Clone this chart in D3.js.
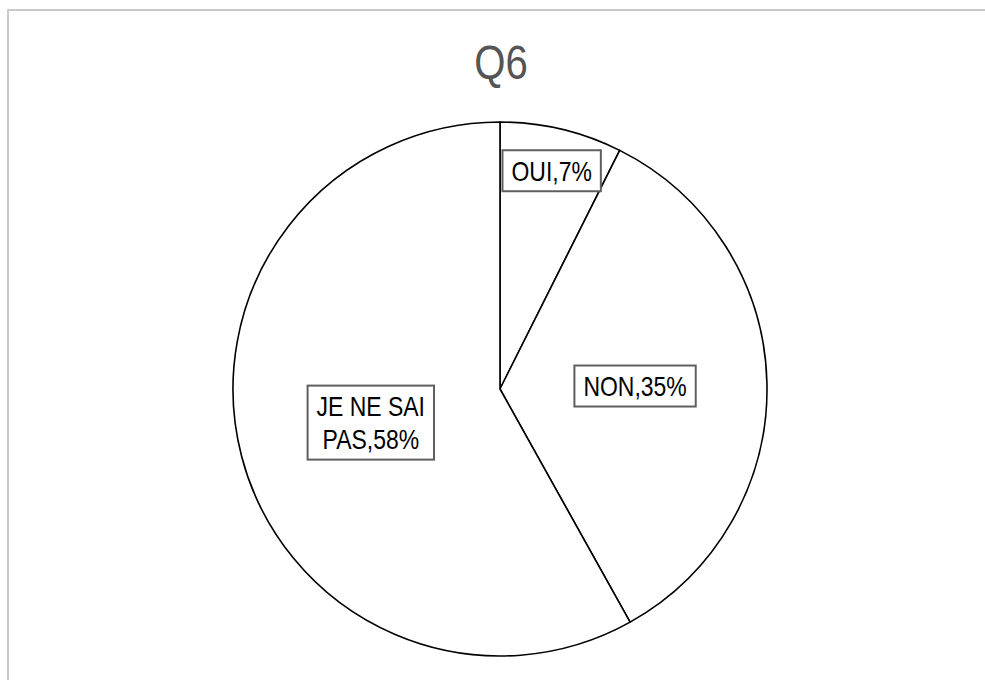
<!DOCTYPE html>
<html>
<head>
<meta charset="utf-8">
<script src="https://cdn.jsdelivr.net/npm/d3@7/dist/d3.min.js"></script>
<style>
  html, body { margin: 0; padding: 0; background: #fff; }
  svg { display: block; }
</style>
</head>
<body>
<svg id="chart" width="985" height="680"></svg>
<script>
// ---- data ----
const title = "Q6";
const categories = ["OUI", "NON", "JE NE SAI PAS"];
const values = [7.4, 34.5, 58.1];
const labelLines = [["OUI,7%"], ["NON,35%"], ["JE NE SAI", "PAS,58%"]];

// ---- layout ----
const W = 985, H = 680;
const cx = 500, cy = 389, R = 267;
const labelRadius = [0.84, 0.506, 0.5];
const fontFamily = "'Liberation Sans', Arial, sans-serif";
const squeeze = 0.82;

const svg = d3.select("#chart");

// chart border
svg.append("rect")
  .attr("x", 8).attr("y", 10)
  .attr("width", W + 20).attr("height", H + 20)
  .attr("fill", "#fff")
  .attr("stroke", "#c9c9c9")
  .attr("stroke-width", 2);

// title
svg.append("text")
  .attr("transform", `translate(501,79) scale(${squeeze},1)`)
  .attr("text-anchor", "middle")
  .attr("font-family", fontFamily)
  .attr("font-size", 49)
  .attr("fill", "#555555")
  .text(title);

const pie = d3.pie().sort(null).value(d => d)(values);
const arc = d3.arc().innerRadius(0).outerRadius(R);

const g = svg.append("g").attr("transform", `translate(${cx},${cy})`);

g.selectAll("path.slice")
  .data(pie)
  .join("path")
  .attr("class", "slice")
  .attr("d", arc)
  .attr("fill", "#fff")
  .attr("stroke", "#000")
  .attr("stroke-width", 1.6)
  .attr("stroke-linejoin", "round");

// labels
const fs = 28, lh = 33, padX = 9;
pie.forEach((d, i) => {
  const a = (d.startAngle + d.endAngle) / 2;
  const r = R * labelRadius[i];
  const lx = Math.sin(a) * r;
  const ly = -Math.cos(a) * r;
  const lines = labelLines[i];
  const lg = g.append("g");
  const rect = lg.append("rect");
  let maxW = 0;
  const n = lines.length;
  lines.forEach((t, j) => {
    const baseline = ly - (n - 1) * lh / 2 + j * lh + 0.35 * fs;
    const tx = lg.append("text")
      .attr("transform", `translate(${lx},${baseline}) scale(${squeeze},1)`)
      .attr("text-anchor", "middle")
      .attr("font-family", fontFamily)
      .attr("font-size", fs)
      .attr("fill", "#000")
      .text(t);
    maxW = Math.max(maxW, tx.node().getBBox().width * squeeze);
  });
  const bw = maxW + 2 * padX;
  const bh = (n - 1) * lh + 41;
  rect.attr("x", lx - bw / 2).attr("y", ly - bh / 2)
    .attr("width", bw).attr("height", bh)
    .attr("fill", "#fff")
    .attr("stroke", "#5f5f5f")
    .attr("stroke-width", 2);
});
</script>
</body>
</html>
